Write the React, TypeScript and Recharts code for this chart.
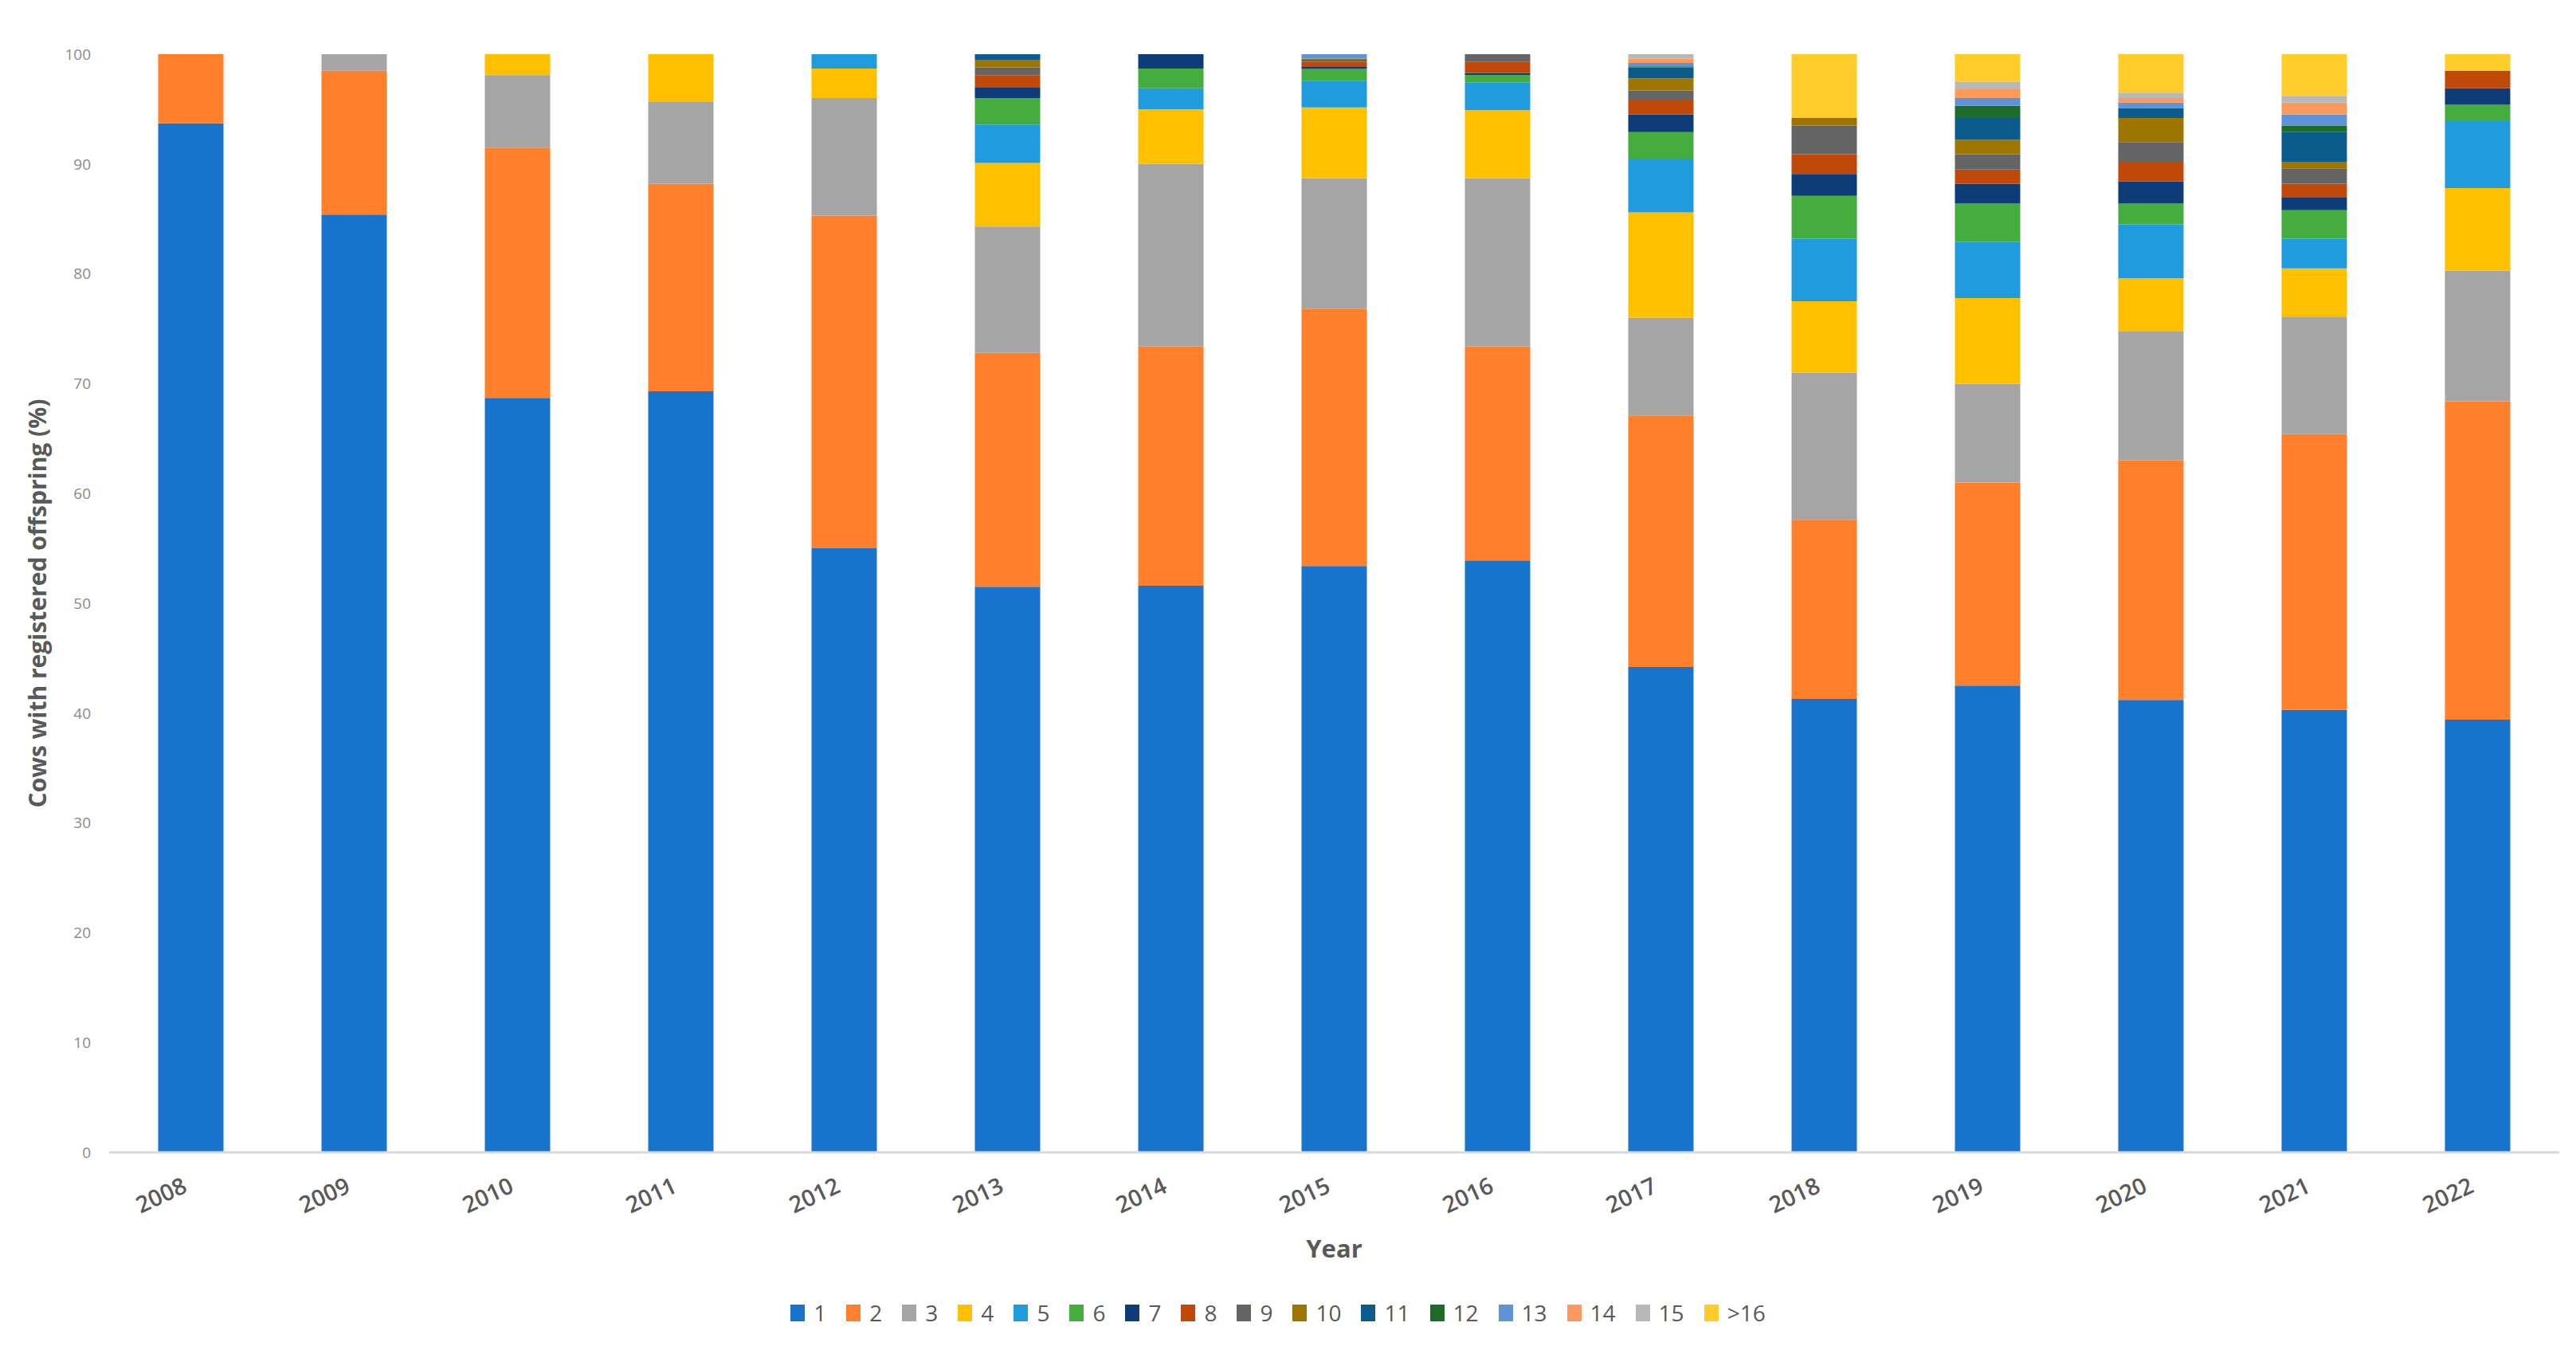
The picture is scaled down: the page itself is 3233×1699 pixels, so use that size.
import { Bar, BarChart, Label, Legend, XAxis, YAxis } from "recharts";

const years = ["2008", "2009", "2010", "2011", "2012", "2013", "2014", "2015", "2016", "2017", "2018", "2019", "2020", "2021", "2022"];

// share of cows (%) by number of registered offspring, one array per class
const n1 = [93.7, 85.4, 68.7, 69.3, 55.0, 51.5, 51.6, 53.4, 53.9, 44.2, 41.3, 42.5, 41.2, 40.3, 39.4];
const n2 = [6.3, 13.1, 22.8, 18.9, 30.3, 21.3, 21.8, 23.4, 19.5, 22.9, 16.3, 18.5, 21.8, 25.1, 29.0];
const n3 = [0, 1.5, 6.6, 7.5, 10.7, 11.5, 16.6, 11.9, 15.3, 8.9, 13.4, 9.0, 11.8, 10.7, 11.9];
const n4 = [0, 0, 1.9, 4.3, 2.7, 5.8, 5.0, 6.45, 6.2, 9.6, 6.5, 7.8, 4.8, 4.4, 7.5];
const n5 = [0, 0, 0, 0, 1.3, 3.5, 1.9, 2.4, 2.5, 4.9, 5.7, 5.1, 4.9, 2.7, 6.1];
const n6 = [0, 0, 0, 0, 0, 2.4, 1.8, 1.1, 0.7, 2.4, 3.9, 3.5, 1.9, 2.6, 1.5];
const n7 = [0, 0, 0, 0, 0, 1.0, 1.3, 0.25, 0.2, 1.6, 2.0, 1.8, 2.0, 1.2, 1.5];
const n8 = [0, 0, 0, 0, 0, 1.1, 0, 0.4, 1.0, 1.3, 1.8, 1.3, 1.8, 1.2, 1.6];
const n9 = [0, 0, 0, 0, 0, 0.7, 0, 0.2, 0.7, 0.9, 2.6, 1.4, 1.8, 1.4, 0];
const n10 = [0, 0, 0, 0, 0, 0.7, 0, 0.1, 0, 1.1, 0.7, 1.3, 2.2, 0.6, 0];
const n11 = [0, 0, 0, 0, 0, 0.5, 0, 0, 0, 1.0, 0, 2.0, 0.9, 2.7, 0];
const n12 = [0, 0, 0, 0, 0, 0, 0, 0, 0, 0.1, 0, 1.1, 0, 0.6, 0];
const n13 = [0, 0, 0, 0, 0, 0, 0, 0.4, 0, 0.3, 0, 0.7, 0.5, 1.0, 0];
const n14 = [0, 0, 0, 0, 0, 0, 0, 0, 0, 0.4, 0, 0.8, 0.4, 1.1, 0];
const n15 = [0, 0, 0, 0, 0, 0, 0, 0, 0, 0.4, 0, 0.7, 0.5, 0.6, 0];
const n16 = [0, 0, 0, 0, 0, 0, 0, 0, 0, 0, 5.8, 2.5, 3.5, 3.8, 1.5];

const seriesNames = ["1", "2", "3", "4", "5", "6", "7", "8", "9", "10", "11", "12", "13", "14", "15", ">16"];
const seriesValues = [n1, n2, n3, n4, n5, n6, n7, n8, n9, n10, n11, n12, n13, n14, n15, n16];
const colors = [
  "#1873CC", "#FF7F2A", "#A5A5A5", "#FFC000", "#1F9BDE", "#44AD3E", "#0E3C78", "#C0490A",
  "#646464", "#9E7500", "#0B5C8C", "#1F6B2A", "#5E93D8", "#FC9A5C", "#B8B8B8", "#FFCC29",
];
const yTicks = [0, 10, 20, 30, 40, 50, 60, 70, 80, 90, 100];

const data = years.map((year, i) => {
  const row: Record<string, string | number> = { year };
  seriesNames.forEach((name, s) => {
    row[name] = seriesValues[s][i];
  });
  return row;
});

const W = 3233;
const H = 1699;
const textGray = "#595959";
const font = "'Open Sans', 'DejaVu Sans', sans-serif";

function YearTick({ x, y, payload }: any) {
  return (
    <text
      transform={`translate(${x - 3},${y + 47}) rotate(-25)`}
      textAnchor="end"
      fill={textGray}
      fontSize={29}
      fontWeight={600}
      fontFamily={font}
    >
      {payload.value}
    </text>
  );
}

// legend keeps the series order (recharts would sort it by name)
function LegendRow() {
  return (
    <div
      style={{
        width: W,
        height: 60,
        display: "flex",
        justifyContent: "center",
        alignItems: "center",
        fontFamily: font,
        fontSize: 28,
        color: textGray,
      }}
    >
      {seriesNames.map((name, i) => (
        <div key={name} style={{ display: "flex", alignItems: "center", marginRight: 25 }}>
          <span style={{ width: 18, height: 21, background: colors[i], marginRight: 11, display: "inline-block" }} />
          <span>{name}</span>
        </div>
      ))}
    </div>
  );
}

export default function App() {
  return (
    <div style={{ position: "absolute", left: 0, top: 0, width: W, height: H, background: "#fff" }}>
      <BarChart
        width={W}
        height={H}
        data={data}
        margin={{ top: 68, right: 21, left: 0, bottom: 22 }}
        barCategoryGap="30%"
      >
        <XAxis
          dataKey="year"
          height={171}
          tickLine={false}
          tickSize={0}
          axisLine={{ stroke: "#D9D9D9", strokeWidth: 3 }}
          tick={<YearTick />}
          interval={0}
        >
          <Label
            content={({ viewBox }: any) => (
              <text
                x={viewBox.x + viewBox.width / 2}
                y={viewBox.y + 120}
                textAnchor="middle"
                dominantBaseline="central"
                fill={textGray}
                fontSize={31}
                fontWeight={700}
                fontFamily={font}
              >
                Year
              </text>
            )}
          />
        </XAxis>
        <YAxis
          width={137}
          domain={[0, 100]}
          ticks={yTicks}
          tickLine={false}
          axisLine={false}
          tickSize={0}
          tickMargin={23}
          tick={{ fill: "#8A8A8A", fontSize: 19, fontFamily: "'Liberation Sans Narrow', 'Open Sans', sans-serif" }}
        >
          <Label
            content={({ viewBox }: any) => {
              const cx = viewBox.x + 46;
              const cy = viewBox.y + viewBox.height / 2;
              return (
                <text
                  x={cx}
                  y={cy}
                  transform={`rotate(-90, ${cx}, ${cy})`}
                  textAnchor="middle"
                  dominantBaseline="central"
                  fill={textGray}
                  fontSize={30}
                  fontWeight={700}
                  fontFamily={font}
                >
                  Cows with registered offspring (%)
                </text>
              );
            }}
          />
        </YAxis>
        <Legend verticalAlign="bottom" wrapperStyle={{ left: 0, width: W }} content={<LegendRow />} />
        {seriesNames.map((name, i) => (
          <Bar key={name} dataKey={name} stackId="a" fill={colors[i]} isAnimationActive={false} />
        ))}
      </BarChart>
    </div>
  );
}
